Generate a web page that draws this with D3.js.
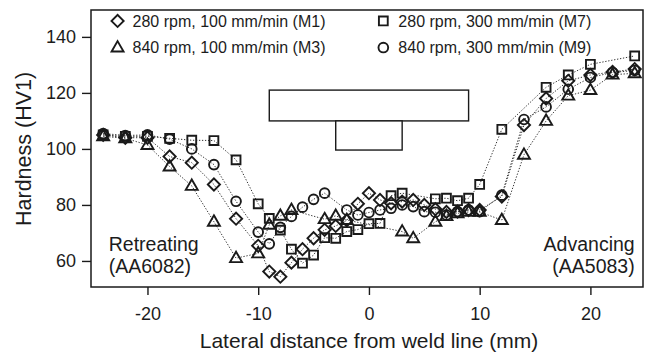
<!DOCTYPE html>
<head>
  <meta charset="utf-8" />
  <style>
    body { margin: 0; background: #fff; }
    text { font-family: 'Liberation Sans', Arial, sans-serif; fill: #1c1c1c; }
  </style>
</head>
<div id="chart"></div>
<script src="https://d3js.org/d3.v7.min.js"></script>
<script>
  // hardness profiles, [distance (mm), HV1]
  const m1 = [
    [-24, 105], [-22, 104], [-20, 104], [-18, 97.3], [-16, 95.1], [-14, 87.3], [-12, 75.1],
    [-10, 65.4], [-9, 56.2], [-8, 54.4], [-7, 59.4], [-6, 64.2], [-5, 68.1], [-4, 71.1],
    [-3, 72.5], [-2, 74.5], [-1, 80.4], [0, 84.2], [1, 81.8], [2, 80.6], [3, 81.2],
    [4, 81.8], [5, 80], [6, 78.5], [7, 77.5], [8, 77.6], [9, 78.2], [10, 78.2],
    [12, 83], [14, 108.5], [16, 118], [18, 124.3], [20, 126.4], [22, 127.5], [24, 128.5],
  ];
  const m3 = [
    [-24, 104.5], [-22, 103.8], [-20, 101.4], [-18, 93.7], [-16, 86.8], [-14, 74], [-12, 61],
    [-10, 62.7], [-9, 72.9], [-8, 76.1], [-7, 78.2], [-4, 74.9], [-3, 76.1], [-2, 74.6],
    [3, 70.5], [4, 68.1], [6, 74], [7, 76], [8, 77], [9, 77.5], [10, 77.5],
    [12, 74.6], [14, 97.9], [16, 110], [18, 119], [20, 121], [22, 126.5], [24, 127],
  ];
  const m7 = [
    [-24, 105], [-22, 104.5], [-20, 104.5], [-18, 103.8], [-16, 103.1], [-14, 103], [-12, 96.1],
    [-10, 80.4], [-9, 75.2], [-8, 71], [-7, 64.2], [-6, 59.2], [-5, 62.1], [-4, 68.3],
    [-3, 68.1], [-2, 70.5], [-1, 71.2], [0, 73.3], [1, 73.4], [2, 83.3], [3, 84.2],
    [6, 82.2], [7, 82.4], [8, 81.5], [9, 82.4], [10, 87.3],
    [12, 107], [16, 122], [18, 126.4], [20, 130.2], [24, 133.2],
  ];
  const m9 = [
    [-24, 105.5], [-22, 104.8], [-20, 105], [-18, 103.5], [-16, 100], [-14, 94.4], [-12, 81.3],
    [-10, 70.3], [-9, 66.1], [-8, 72], [-7, 75.9], [-6, 79.2], [-5, 82], [-4, 84.2],
    [-2, 78.2], [-1, 76.4], [0, 77.3], [1, 78.2], [2, 78.8], [3, 80], [4, 79.4],
    [5, 77.6], [6, 77.4], [7, 76.4], [8, 77.6], [9, 78.2], [10, 77.6],
    [12, 83.5], [14, 110.5], [16, 115], [18, 121.3], [20, 125.5], [22, 127.3], [24, 128],
  ];

  const seriesNames = [
    '280 rpm, 100 mm/min (M1)',
    '840 rpm, 100 mm/min (M3)',
    '280 rpm, 300 mm/min (M7)',
    '840 rpm, 300 mm/min (M9)',
  ];
  const seriesData = [m1, m3, m7, m9];
  const seriesShapes = ['diamond', 'triangle', 'square', 'circle'];

  const xTicks = [-20, -10, 0, 10, 20];
  const yTicks = [60, 80, 100, 120, 140];
  const xDomain = [-25.1, 24.75];
  const yDomain = [50.7, 149.6];

  // tool sketch: shoulder and pin outline, in chart units
  const toolShoulder = { x0: -9, x1: 9, y0: 110, y1: 121 };
  const toolPin = { x0: -3, x1: 3, y0: 99.6, y1: 110 };

  var width = 646,
    height = 356,
    margin = { top: 10, right: 3, bottom: 69, left: 91 };

  var svg = d3
    .select('#chart')
    .append('svg')
    .attr('width', width)
    .attr('height', height);

  var w = width - margin.left - margin.right,
    h = height - margin.top - margin.bottom;

  var g = svg
    .append('g')
    .attr('transform', 'translate(' + margin.left + ',' + margin.top + ')');

  var x = d3.scaleLinear().domain(xDomain).range([0, w]);
  var y = d3.scaleLinear().domain(yDomain).range([h, 0]);

  const ink = '#1a1a1a';

  function shapePath(shape) {
    if (shape === 'diamond') return d3.symbol().type(d3.symbolSquare).size(74)();
    if (shape === 'triangle') return d3.symbol().type(d3.symbolTriangle).size(62)();
    if (shape === 'square') return d3.symbol().type(d3.symbolSquare).size(78)();
    return d3.symbol().type(d3.symbolCircle).size(74)();
  }
  function shapeTransform(shape, px, py) {
    var t = 'translate(' + px + ',' + py + ')';
    if (shape === 'diamond') t += ' rotate(45)';
    if (shape === 'triangle') t += ' translate(0,0.5)';
    return t;
  }

  // tool drawing
  [toolShoulder, toolPin].forEach((r) => {
    g.append('rect')
      .attr('x', x(r.x0))
      .attr('y', y(r.y1))
      .attr('width', x(r.x1) - x(r.x0))
      .attr('height', y(r.y0) - y(r.y1))
      .attr('fill', '#fff')
      .attr('stroke', ink)
      .attr('stroke-width', 1.4);
  });

  var line = d3
    .line()
    .x((d) => x(d[0]))
    .y((d) => y(d[1]));

  seriesData.forEach((data) => {
    g.append('path')
      .attr('d', line(data))
      .attr('fill', 'none')
      .attr('stroke', '#333')
      .attr('stroke-width', 1)
      .attr('stroke-dasharray', '1.3,1.7');
  });

  seriesData.forEach((data, i) => {
    var shape = seriesShapes[i];
    g.selectAll('.pt' + i)
      .data(data)
      .enter()
      .append('path')
      .attr('class', 'pt' + i)
      .attr('d', shapePath(shape))
      .attr('transform', (d) => shapeTransform(shape, x(d[0]), y(d[1])))
      .attr('fill', 'none')
      .attr('stroke', ink)
      .attr('stroke-width', 1.9);
  });

  // axes
  var xAxis = d3
    .axisBottom(x)
    .tickValues(xTicks)
    .tickSize(8)
    .tickSizeOuter(0)
    .tickPadding(12)
    .tickFormat((d) => String(d));
  var yAxis = d3
    .axisLeft(y)
    .tickValues(yTicks)
    .tickSize(9)
    .tickSizeOuter(0)
    .tickPadding(6)
    .tickFormat((d) => String(d));

  var gx = g.append('g').attr('transform', 'translate(0,' + h + ')').call(xAxis);
  var gy = g.append('g').call(yAxis);
  [gx, gy].forEach((a) => {
    a.select('.domain').remove();
    a.selectAll('.tick line').attr('stroke', ink).attr('stroke-width', 1.4);
    a.selectAll('.tick text')
      .attr('font-family', "'Liberation Sans', Arial, sans-serif")
      .attr('font-size', '18px')
      .attr('fill', ink);
  });

  // frame
  g.append('rect')
    .attr('x', 0)
    .attr('y', 0)
    .attr('width', w)
    .attr('height', h)
    .attr('fill', 'none')
    .attr('stroke', ink)
    .attr('stroke-width', 1.5);

  // legend
  const legendPos = [
    [x(-22.7), y(145.7)],
    [x(-22.7), y(136.2)],
    [x(1.3), y(145.7)],
    [x(1.3), y(136.2)],
  ];
  seriesNames.forEach((name, i) => {
    var p = legendPos[i];
    var shape = seriesShapes[i];
    g.append('path')
      .attr('d', shapePath(shape))
      .attr('transform', shapeTransform(shape, p[0], p[1]))
      .attr('fill', 'none')
      .attr('stroke', ink)
      .attr('stroke-width', 1.9);
    g.append('text')
      .attr('x', p[0] + 15)
      .attr('y', p[1])
      .attr('dy', '0.35em')
      .attr('font-size', '16px')
      .text(name);
  });

  // side labels
  g.append('text')
    .attr('x', x(-23.5))
    .attr('y', y(63.4))
    .attr('font-size', '19.5px')
    .text('Retreating');
  g.append('text')
    .attr('x', x(-23.5))
    .attr('y', y(55.6))
    .attr('font-size', '19.5px')
    .text('(AA6082)');
  g.append('text')
    .attr('x', x(24))
    .attr('y', y(63.4))
    .attr('text-anchor', 'end')
    .attr('font-size', '19.5px')
    .text('Advancing');
  g.append('text')
    .attr('x', x(24))
    .attr('y', y(55.6))
    .attr('text-anchor', 'end')
    .attr('font-size', '19.5px')
    .text('(AA5083)');

  // axis titles
  svg
    .append('text')
    .attr('x', margin.left + x(0))
    .attr('y', 348)
    .attr('text-anchor', 'middle')
    .attr('font-size', '21px')
    .text('Lateral distance from weld line (mm)');
  svg
    .append('text')
    .attr('transform', 'translate(31,' + (margin.top + y(100)) + ') rotate(-90)')
    .attr('text-anchor', 'middle')
    .attr('font-size', '21.5px')
    .text('Hardness (HV1)');
</script>
